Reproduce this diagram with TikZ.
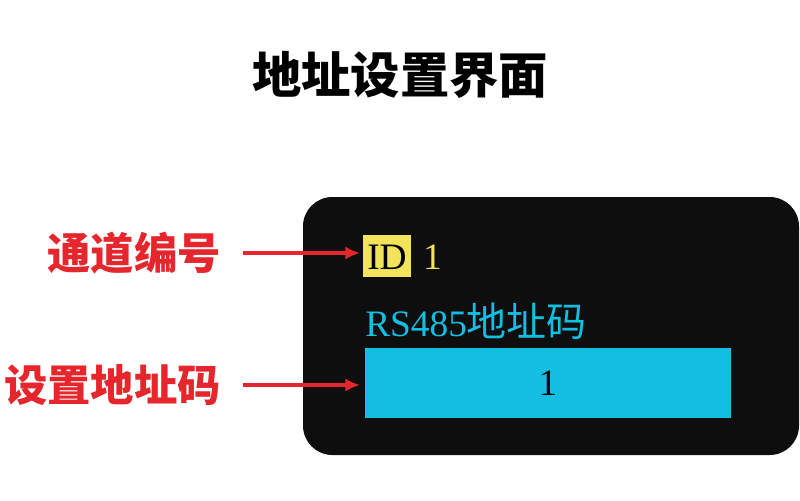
\documentclass[tikz,border=0pt]{standalone}
\usepackage{fontspec}
\setmainfont{Liberation Serif}
\newfontfamily\cjk{Noto Sans CJK SC}
\usetikzlibrary{positioning,arrows.meta}
\definecolor{labred}{HTML}{E5262C}
\definecolor{scrcyan}{HTML}{12BFE2}
\definecolor{idyel}{HTML}{F2E45A}
\definecolor{scrblk}{HTML}{0E0E0E}
\tikzset{
  callout/.style={text=labred, font=\cjk\bfseries\fontsize{32.5}{32.5}\selectfont, inner sep=0pt},
  pointer/.style={draw=labred, line width=2.6pt, -{Latex[length=11pt,width=10pt]}},
  screentext/.style={inner sep=0pt, font=\fontsize{28}{28}\selectfont}
}
\begin{document}
\begin{tikzpicture}[x=0.75pt,y=-0.75pt]
\useasboundingbox (0,0) rectangle (800,500);
% title
\node[font=\cjk\bfseries\fontsize{37}{37}\selectfont, inner sep=0pt] (title) at (400,75) {地址设置界面};
% screen
\fill[scrblk, rounded corners=22pt] (303,197) rectangle (799,455);
\fill[idyel] (363,235) rectangle (411,277);
\node[screentext, anchor=center] (id) at (387,257) {ID};
\node[screentext, text=idyel, right=12pt of id] (idval) {1};
\node[screentext, text=scrcyan, anchor=west] (rs) at (365,321) {RS485{\cjk\fontsize{30}{30}\selectfont 地址码}};
\node[fill=scrcyan, minimum width=274.5pt, minimum height=52.5pt, inner sep=0pt,
      font=\fontsize{28}{28}\selectfont] (addr) at (548,383) {1};
% callouts
\node[callout, anchor=east] (chan) at (221,253) {通道编号};
\node[callout, anchor=east] (set) at (221,385) {设置地址码};
\draw[pointer] (chan.east) ++(22,0) coordinate (c1) -- (360,253) coordinate (c2);
\draw[pointer] (set.east) ++(22,0) coordinate (s1) -- (360,385) coordinate (s2);
\end{tikzpicture}
\end{document}
